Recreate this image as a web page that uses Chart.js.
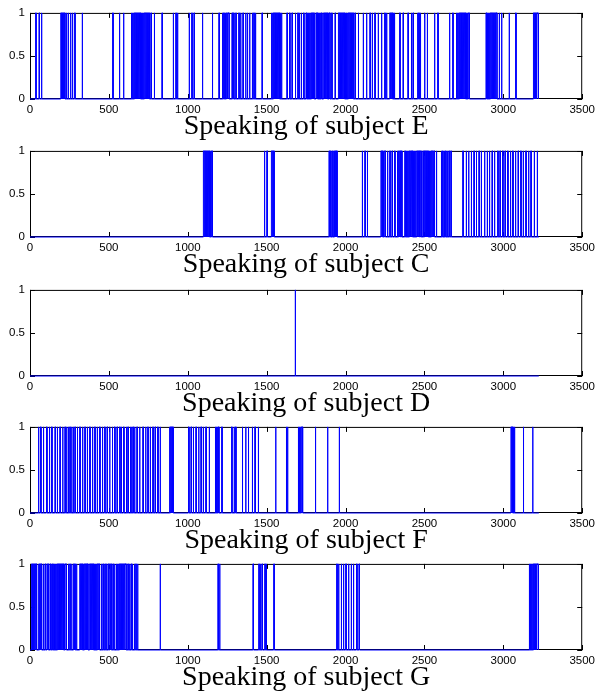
<!DOCTYPE html>
<html>
<head>
<meta charset="utf-8">
<script src="https://cdn.jsdelivr.net/npm/chart.js@4"></script>
<style>
  body { margin: 0; background: #fff; }
  #wrap { position: relative; width: 599px; height: 693px; }
  #wrap canvas { position: absolute; left: 0; }
</style>
</head>
<body>
<div id="wrap"></div>
<script>
// tick values
var xTicks = [0, 500, 1000, 1500, 2000, 2500, 3000, 3500];
var yTicks = [0, 0.5, 1];
var signalEnd = 3225;

var titles = ['Speaking of subject E', 'Speaking of subject C', 'Speaking of subject D',
              'Speaking of subject F', 'Speaking of subject G'];

// speaking intervals [start, end]
var pulsesE = [
  [36,39],[57,60],[72,75],
  [195,198],[201,204],[207,210],[213,216],[219,222],
  [230,233],[241,244],[256,259],[268,271],[283,286],
  [330,333],[524,527],[566,569],[592,595],
  [641,645],[648,652],[655,659],[662,666],[669,673],[676,680],[683,687],[690,694],[697,701],
  [704,708],[711,715],[718,722],[725,729],[732,736],[739,743],[746,750],[753,757],
  [766,769],[787,790],[836,839],[907,910],[924,927],[934,937],[1008,1011],[1025,1028],
  [1039,1042],[1092,1095],[1155,1158],[1197,1200],
  [1218,1222],[1227,1231],[1236,1240],[1245,1249],[1254,1262],
  [1280,1283],[1290,1293],[1304,1307],[1323,1326],[1334,1337],[1349,1352],[1366,1369],
  [1377,1380],[1391,1394],[1408,1411],[1418,1421],[1428,1431],[1470,1473],
  [1529,1533],[1536,1540],[1543,1547],[1550,1554],[1557,1561],[1564,1568],[1571,1575],
  [1578,1582],[1585,1589],[1592,1597],
  [1628,1631],[1645,1648],[1660,1663],[1681,1684],[1697,1700],[1707,1710],[1719,1722],[1734,1737],
  [1749,1753],[1756,1760],[1763,1767],[1770,1774],[1777,1781],[1784,1788],[1791,1795],[1798,1802],
  [1812,1816],[1819,1823],[1826,1830],[1833,1837],[1840,1844],[1847,1851],
  [1861,1865],[1868,1872],[1875,1879],[1882,1886],[1889,1893],[1896,1902],
  [1912,1915],[1933,1936],
  [1955,1959],[1962,1966],[1969,1973],[1976,1980],[1983,1987],[1990,1994],[1997,2001],
  [2004,2008],[2011,2015],[2018,2022],[2025,2029],[2032,2036],[2039,2043],[2046,2050],
  [2059,2062],[2080,2083],[2111,2114],[2132,2135],[2154,2157],[2168,2171],[2185,2188],
  [2206,2209],[2227,2230],[2248,2251],[2259,2262],
  [2280,2284],[2287,2291],[2294,2298],[2301,2305],[2308,2312],
  [2343,2346],[2364,2367],[2395,2398],[2416,2419],[2427,2430],
  [2455,2459],[2463,2467],[2472,2477],
  [2500,2503],[2517,2520],[2563,2566],[2584,2587],[2658,2661],[2679,2682],
  [2701,2705],[2708,2712],[2715,2719],[2722,2726],[2729,2733],[2736,2740],[2743,2747],
  [2750,2754],[2757,2761],[2764,2768],[2771,2775],[2778,2785],
  [2890,2894],[2897,2901],[2904,2908],[2911,2915],[2918,2922],[2925,2929],[2932,2936],
  [2939,2943],[2946,2950],[2953,2960],
  [2973,2976],[2988,2991],[3036,3039],[3078,3081],
  [3191,3195],[3198,3202],[3205,3209],[3212,3220]
];

var pulsesC = [
  [1099,1103],[1106,1110],[1113,1117],[1120,1124],[1127,1131],[1134,1138],[1141,1145],[1150,1156],
  [1485,1488],[1501,1504],
  [1530,1534],[1537,1541],[1544,1548],
  [1895,1898],[1905,1908],[1918,1921],
  [1930,1934],[1937,1941],[1943,1947],
  [2105,2108],[2122,2125],[2137,2140],
  [2224,2228],[2231,2235],[2238,2242],[2246,2253],
  [2265,2268],[2280,2283],[2294,2297],[2311,2314],
  [2327,2331],[2336,2340],[2345,2349],[2354,2358],
  [2375,2379],[2384,2388],[2391,2395],[2398,2402],[2405,2409],[2414,2418],[2421,2425],
  [2428,2432],[2435,2439],[2442,2446],[2451,2455],[2458,2462],[2465,2469],[2474,2480],
  [2490,2493],
  [2500,2504],[2507,2511],[2514,2518],[2521,2525],[2530,2534],[2537,2541],[2544,2548],
  [2551,2555],[2560,2564],
  [2575,2578],
  [2606,2609],[2615,2618],[2625,2628],[2634,2637],[2645,2648],[2655,2658],[2667,2670],
  [2743,2746],[2764,2767],[2779,2782],[2796,2799],[2813,2816],[2828,2831],[2845,2848],
  [2859,2862],[2880,2883],[2897,2900],[2911,2914],[2928,2931],[2943,2946],[2964,2967],
  [2978,2981],[2995,2998],[3010,3013],[3027,3030],[3044,3047],[3059,3062],[3076,3079],
  [3093,3096],[3110,3113],[3125,3128],[3142,3145],[3159,3162],[3174,3177],[3195,3198],
  [3214,3217]
];

var pulsesD = [
  [1680,1683]
];

var pulsesF = [
  [53,56],[67,70],[84,87],[105,108],[122,125],[137,140],[158,161],[172,175],[189,192],
  [206,209],[221,224],[231,234],[242,245],[252,255],[263,266],[273,276],[284,287],
  [299,302],[315,318],[332,335],[347,350],[362,365],[378,381],[395,398],[410,413],
  [425,428],[441,444],[458,461],[473,476],[488,491],[504,507],[521,524],[536,539],
  [551,554],[568,571],[578,581],[593,596],[610,613],[620,623],[635,638],[643,646],
  [652,655],[662,665],[677,680],[694,697],[715,718],[732,735],[746,749],[761,764],
  [778,781],[792,795],[809,812],[824,827],
  [883,887],[890,894],[897,901],[904,908],
  [1005,1008],[1020,1023],[1034,1037],[1051,1054],[1068,1071],[1083,1086],[1097,1100],
  [1114,1117],[1135,1138],
  [1173,1177],[1180,1184],[1187,1191],[1194,1198],
  [1215,1218],[1278,1281],[1293,1296],[1303,1306],[1345,1348],[1366,1369],[1383,1386],
  [1408,1411],[1425,1428],[1446,1449],[1556,1559],
  [1623,1627],[1630,1635],
  [1699,1703],[1706,1710],[1713,1717],[1720,1728],
  [1808,1811],[1885,1888],[1959,1962],
  [3048,3052],[3055,3059],[3062,3066],[3069,3073],
  [3126,3129],[3185,3188]
];

var pulsesG = [
  [10,14],[17,21],[24,28],[31,35],[38,42],
  [53,57],[60,64],[67,74],
  [84,87],[95,98],[107,110],[114,117],
  [126,130],[135,139],[143,147],
  [153,157],[160,164],[167,171],[174,178],[181,185],[188,192],[195,199],[202,206],
  [209,213],[216,220],[223,231],
  [242,245],[252,255],[263,266],[276,279],[284,287],[294,297],
  [315,319],[322,326],[329,333],[336,340],[345,349],[352,356],[359,363],[364,368],
  [378,382],[385,389],[392,396],[399,403],[406,410],[413,417],[420,424],[427,431],[434,441],
  [452,455],[462,465],[472,475],[480,483],
  [494,497],[505,508],[513,516],[525,528],[535,538],
  [546,550],[553,557],[560,564],[567,571],[574,578],[581,585],[588,592],[595,599],[602,610],
  [620,623],[630,633],[640,643],[647,650],[660,663],[670,673],[681,684],
  [824,827],[1191,1194],[1201,1204],[1413,1416],[1450,1453],[1460,1463],[1470,1473],
  [1488,1491],[1497,1500],[1545,1548],
  [1944,1947],[1955,1958],[1972,1975],[1986,1989],[2001,2004],[2018,2021],[2035,2038],
  [2049,2052],[2070,2073],[2085,2088],
  [3163,3167],[3170,3174],[3177,3181],[3184,3188],[3191,3195],[3198,3202],[3205,3209],[3212,3220]
];

var allPulses = [pulsesE, pulsesC, pulsesD, pulsesF, pulsesG];
var canvasTops = [1, 139, 278, 415, 552];

function toPoints(pulses) {
  var pts = [{x: 0, y: 0}];
  pulses.forEach(function (p) {
    pts.push({x: p[0], y: 0}, {x: p[0], y: 1}, {x: p[1], y: 1}, {x: p[1], y: 0});
  });
  pts.push({x: signalEnd, y: 0});
  return pts;
}

// box + inward ticks, drawn under the signal like matlab does
var framePlugin = {
  id: 'frame',
  beforeDatasetsDraw: function (chart) {
    var a = chart.chartArea, ctx = chart.ctx;
    var sx = chart.scales.x, sy = chart.scales.y;
    ctx.save();
    ctx.strokeStyle = '#000';
    ctx.lineWidth = 1;
    ctx.strokeRect(a.left + 0.5, a.top + 0.5, a.right - a.left - 1, a.bottom - a.top - 1);
    ctx.beginPath();
    xTicks.forEach(function (v) {
      var px = Math.round(sx.getPixelForValue(v)) + 0.5;
      ctx.moveTo(px, a.top); ctx.lineTo(px, a.top + 5);
      ctx.moveTo(px, a.bottom); ctx.lineTo(px, a.bottom - 5);
    });
    yTicks.forEach(function (v) {
      var py = Math.round(sy.getPixelForValue(v)) + 0.5;
      ctx.moveTo(a.left, py); ctx.lineTo(a.left + 5, py);
      ctx.moveTo(a.right, py); ctx.lineTo(a.right - 5, py);
    });
    ctx.stroke();
    ctx.restore();
  }
};

var tickFont = {family: 'Liberation Sans, Arial, sans-serif', size: 11.5};

allPulses.forEach(function (pulses, i) {
  var cv = document.createElement('canvas');
  cv.width = 599;
  cv.height = 140;
  cv.style.top = canvasTops[i] + 'px';
  document.getElementById('wrap').appendChild(cv);

  new Chart(cv, {
    type: 'line',
    data: {
      datasets: [{
        data: toPoints(pulses),
        borderColor: '#0000ff',
        borderWidth: 1,
        pointRadius: 0,
        tension: 0,
        fill: false,
        clip: 2
      }]
    },
    options: {
      responsive: false,
      animation: false,
      parsing: false,
      layout: {padding: {top: 10, right: 14, left: 0, bottom: 0}},
      plugins: {legend: {display: false}, tooltip: {enabled: false}},
      scales: {
        x: {
          type: 'linear', min: 0, max: 3500,
          grid: {display: false, drawTicks: false},
          border: {display: false},
          afterBuildTicks: function (s) { s.ticks = xTicks.map(function (v) { return {value: v}; }); },
          afterFit: function (s) { s.height = 42; },
          ticks: {
            font: tickFont, color: '#000', padding: 4,
            maxRotation: 0, autoSkip: false,
            callback: function (v) { return String(v); }
          },
          title: {
            display: true, text: titles[i], color: '#000',
            font: {family: 'Liberation Serif, Times New Roman, serif', size: 28, lineHeight: 1},
            padding: 0
          }
        },
        y: {
          min: 0, max: 1,
          grid: {display: false, drawTicks: false},
          border: {display: false},
          afterBuildTicks: function (s) { s.ticks = yTicks.map(function (v) { return {value: v}; }); },
          afterFit: function (s) { s.width = 30; },
          ticks: {
            font: tickFont, color: '#000', padding: 5,
            callback: function (v) { return String(v); }
          }
        }
      }
    },
    plugins: [framePlugin]
  });
});
</script>
</body>
</html>
